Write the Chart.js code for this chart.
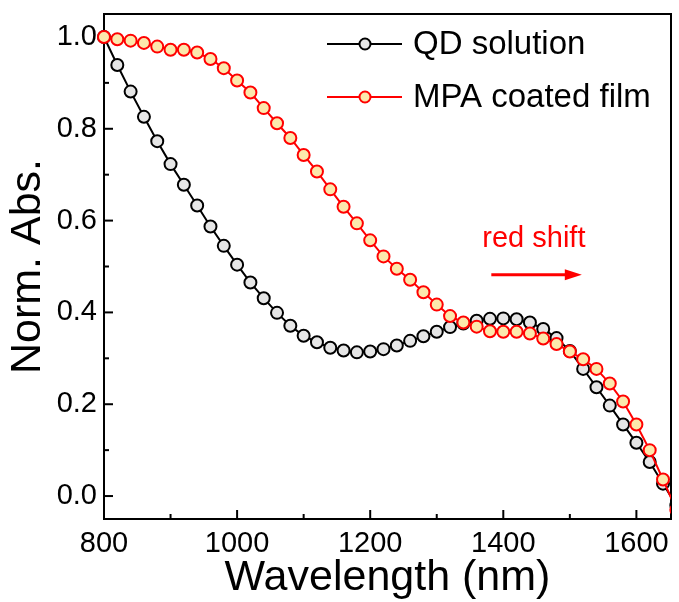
<!DOCTYPE html>
<html>
<head>
<meta charset="utf-8">
<script src="https://cdn.jsdelivr.net/npm/chart.js@4/dist/chart.umd.min.js"></script>
<style>
  html, body { margin: 0; padding: 0; background: #fff; }
  #wrap { width: 679px; height: 602px; }
</style>
</head>
<body>
<div id="wrap"><canvas id="chart" width="679" height="602"></canvas></div>
<script>
// Absorption spectra, normalised (wavelength in nm)
const wavelengths = [800, 820, 840, 860, 880, 900, 920, 940, 960, 980,
  1000, 1020, 1040, 1060, 1080, 1100, 1120, 1140, 1160, 1180,
  1200, 1220, 1240, 1260, 1280, 1300, 1320, 1340, 1360, 1380,
  1400, 1420, 1440, 1460, 1480, 1500, 1520, 1540, 1560, 1580,
  1600, 1620, 1640, 1660];

const qdSolution = [1.000, 0.939, 0.881, 0.826, 0.773, 0.723, 0.678, 0.633, 0.587, 0.545,
  0.504, 0.465, 0.431, 0.399, 0.371, 0.349, 0.335, 0.323, 0.317, 0.313,
  0.315, 0.320, 0.328, 0.338, 0.348, 0.358, 0.368, 0.376, 0.382, 0.386,
  0.387, 0.385, 0.378, 0.364, 0.344, 0.316, 0.277, 0.237, 0.197, 0.156,
  0.116, 0.074, 0.027, -0.020];

const mpaFilm = [1.000, 0.995, 0.992, 0.987, 0.979, 0.972, 0.972, 0.966, 0.952, 0.932,
  0.905, 0.879, 0.845, 0.812, 0.780, 0.743, 0.707, 0.668, 0.630, 0.594,
  0.557, 0.522, 0.495, 0.471, 0.444, 0.417, 0.392, 0.378, 0.369, 0.359,
  0.358, 0.358, 0.354, 0.343, 0.331, 0.315, 0.298, 0.277, 0.245, 0.206,
  0.156, 0.100, 0.036, -0.030];

const seriesLabels = ['QD solution', 'MPA coated film'];
const xTicks = [800, 1000, 1200, 1400, 1600];
const xMinorTicks = [900, 1100, 1300, 1500];
const yTicks = [0.0, 0.2, 0.4, 0.6, 0.8, 1.0];
const yMinorTicks = [0.1, 0.3, 0.5, 0.7, 0.9];
const annotationText = 'red shift';

const FONT = '"Liberation Sans", Arial, Helvetica, sans-serif';
const RED = '#ff0000';
const QD_FILL = '#e6e6e6';
const MPA_FILL = '#fce8ac';

const toPoints = (ys) => wavelengths.map((w, i) => ({ x: w, y: ys[i] }));

// Box frame with inward major/minor ticks on the left and bottom axes
const framePlugin = {
  id: 'frame',
  beforeDatasetsDraw(chart) {
    const { ctx, chartArea: { left, top, right, bottom }, scales: { x, y } } = chart;
    ctx.save();
    ctx.strokeStyle = '#000';
    ctx.lineWidth = 2;
    ctx.strokeRect(left, top, right - left, bottom - top);
    const seg = (x1, y1, x2, y2) => { ctx.beginPath(); ctx.moveTo(x1, y1); ctx.lineTo(x2, y2); ctx.stroke(); };
    xTicks.forEach(v => { const p = x.getPixelForValue(v); seg(p, bottom, p, bottom - 9); });
    xMinorTicks.forEach(v => { const p = x.getPixelForValue(v); seg(p, bottom, p, bottom - 5); });
    yTicks.forEach(v => { const p = y.getPixelForValue(v); seg(left, p, left + 9, p); });
    yMinorTicks.forEach(v => { const p = y.getPixelForValue(v); seg(left, p, left + 5, p); });
    ctx.restore();
  }
};

// Legend: line with centred marker, then the label
const legendPlugin = {
  id: 'lineLegend',
  afterDatasetsDraw(chart) {
    const { ctx } = chart;
    const rows = [
      { y: 44, line: '#000', fill: QD_FILL, stroke: '#000' },
      { y: 97, line: RED, fill: MPA_FILL, stroke: RED }
    ];
    ctx.save();
    rows.forEach((r, i) => {
      ctx.strokeStyle = r.line;
      ctx.lineWidth = 2;
      ctx.beginPath(); ctx.moveTo(327, r.y); ctx.lineTo(402, r.y); ctx.stroke();
      ctx.beginPath(); ctx.arc(365, r.y, 5.5, 0, Math.PI * 2);
      ctx.fillStyle = r.fill; ctx.fill();
      ctx.strokeStyle = r.stroke; ctx.stroke();
      ctx.fillStyle = '#000';
      ctx.font = '33px ' + FONT;
      ctx.textAlign = 'left';
      ctx.textBaseline = 'middle';
      ctx.fillText(seriesLabels[i], 413, r.y + 1);
    });
    ctx.restore();
  }
};

// "red shift" note with an arrow pointing to longer wavelengths
const notePlugin = {
  id: 'shiftNote',
  afterDatasetsDraw(chart) {
    const { ctx, scales: { x, y } } = chart;
    const tx = x.getPixelForValue(1446);
    const ty = y.getPixelForValue(0.543);
    const ax1 = x.getPixelForValue(1382);
    const ax2 = x.getPixelForValue(1518);
    const ay = y.getPixelForValue(0.482);
    ctx.save();
    ctx.fillStyle = RED;
    ctx.font = '29px ' + FONT;
    ctx.textAlign = 'center';
    ctx.textBaseline = 'alphabetic';
    ctx.fillText(annotationText, tx, ty);
    ctx.strokeStyle = RED;
    ctx.lineWidth = 3;
    ctx.beginPath(); ctx.moveTo(ax1, ay); ctx.lineTo(ax2 - 12, ay); ctx.stroke();
    ctx.beginPath();
    ctx.moveTo(ax2, ay);
    ctx.lineTo(ax2 - 17, ay - 5.5);
    ctx.lineTo(ax2 - 17, ay + 5.5);
    ctx.closePath();
    ctx.fill();
    ctx.restore();
  }
};

const seriesClip = { left: 10, top: 10, right: 0, bottom: 0 };

// Keep the plot box fixed: tick labels may overhang without shrinking it
const noOverhang = (s) => { s.paddingTop = 0; s.paddingBottom = 0; s.paddingLeft = 0; s.paddingRight = 0; };

new Chart(document.getElementById('chart'), {
  type: 'line',
  data: {
    datasets: [
      {
        label: seriesLabels[0],
        data: toPoints(qdSolution),
        borderColor: '#000',
        borderWidth: 2,
        pointRadius: 6,
        pointBorderWidth: 2,
        pointBackgroundColor: QD_FILL,
        pointBorderColor: '#000',
        tension: 0,
        order: 1,
        clip: seriesClip
      },
      {
        label: seriesLabels[1],
        data: toPoints(mpaFilm),
        borderColor: RED,
        borderWidth: 2,
        pointRadius: 6,
        pointBorderWidth: 2,
        pointBackgroundColor: MPA_FILL,
        pointBorderColor: RED,
        tension: 0,
        order: 0,
        clip: seriesClip
      }
    ]
  },
  options: {
    responsive: false,
    animation: false,
    devicePixelRatio: 1,
    layout: { padding: { top: 14, right: 1, left: 0, bottom: 0 } },
    plugins: { legend: { display: false }, tooltip: { enabled: false } },
    scales: {
      x: {
        type: 'linear',
        min: 800,
        max: 1652,
        afterBuildTicks: (s) => { s.ticks = xTicks.map(v => ({ value: v })); },
        afterFit: (s) => { s.height = 83; noOverhang(s); },
        grid: { display: false, drawTicks: false },
        border: { display: false },
        ticks: {
          autoSkip: false, maxRotation: 0, padding: 8, color: '#000',
          font: { family: FONT, size: 29 },
          callback: (v) => String(v)
        },
        title: {
          display: true, text: 'Wavelength (nm)', color: '#000',
          font: { family: FONT, size: 43, lineHeight: 1 },
          padding: { top: 0, bottom: 2 }
        }
      },
      y: {
        type: 'linear',
        min: -0.05,
        max: 1.05,
        afterBuildTicks: (s) => { s.ticks = yTicks.map(v => ({ value: v })); },
        afterFit: (s) => { s.width = 104; noOverhang(s); },
        grid: { display: false, drawTicks: false },
        border: { display: false },
        ticks: {
          autoSkip: false, padding: 7, color: '#000',
          font: { family: FONT, size: 29 },
          callback: (v) => Number(v).toFixed(1)
        },
        title: {
          display: true, text: 'Norm. Abs.', color: '#000',
          font: { family: FONT, size: 43, lineHeight: 1 },
          padding: { top: 7, bottom: 0 }
        }
      }
    }
  },
  plugins: [framePlugin, legendPlugin, notePlugin]
});
</script>
</body>
</html>
